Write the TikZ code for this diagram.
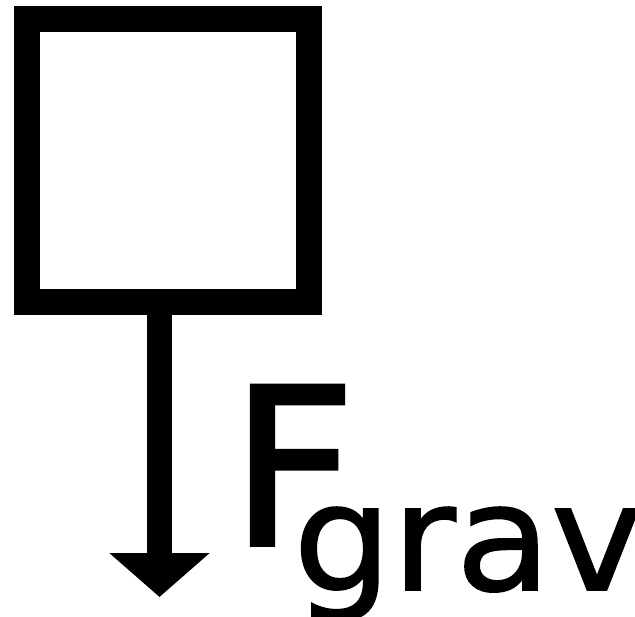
\documentclass[tikz,border=0pt]{standalone}
\usepackage{fontspec}
\setmainfont{DejaVu Sans}
\newfontfamily\forcefont{DejaVu Sans}[FakeBold=1.6]
\newfontfamily\indexfont{DejaVu Sans}[FakeBold=1.2,FakeStretch=1.05]
\usetikzlibrary{positioning,calc,arrows.meta}
\tikzset{BODY/.style={rectangle,draw,line width=26pt,minimum width=282pt,minimum height=283pt,inner sep=0pt}}
\tikzset{FORCE/.style={line width=25pt,-{Triangle[width=98pt,length=44pt]}}}
\tikzset{SYMBOL/.style={inner sep=0pt,font=\forcefont\fontsize{219}{219}\selectfont}}
\tikzset{INDEX/.style={inner sep=0pt,text depth=20pt,font=\indexfont\fontsize{148}{148}\selectfont}}

\begin{document}
\begin{tikzpicture}[x=1pt,y=-1pt]
\useasboundingbox (0,0) rectangle (635,617);

\node[BODY] (n_body) at (168,160.5) {};

\coordinate (c_tip) at (159.5,597);
\draw[FORCE] (n_body.south-|c_tip) -- (c_tip);

\node[SYMBOL, anchor=base west] (n_force) at (230,545) {F};
\node[INDEX, anchor=base west] (n_grav) at ($(n_force.base west)+(63,45)$) {grav};

\end{tikzpicture}
\end{document}
